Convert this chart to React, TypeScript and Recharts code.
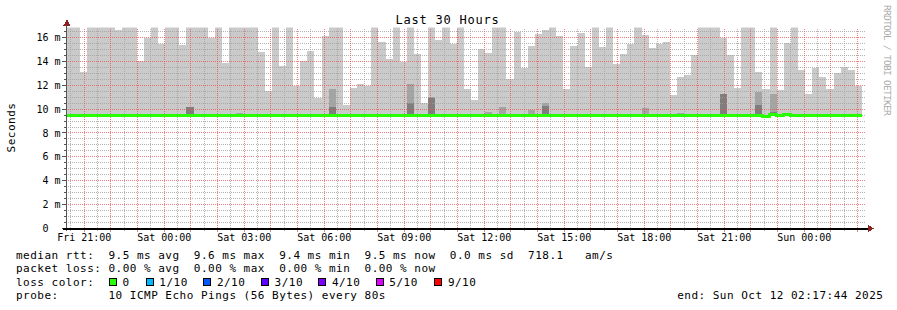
import React from "react";
import { ComposedChart, Area, Line, XAxis, YAxis, ReferenceLine } from "recharts";

// ---- data ----
const STEP_MIN = 16; // one smoke column = 16 minutes
const WINDOW_MIN = 1800; // 30 hours
const FIRST_LABEL_MIN = 42 + 16 / 60; // Fri 21:00 relative to window start (Fri 20:17:44)
const SMOKE_FLOOR = 9.45;

const topValues: number[] = [
  16.9, 16.9, 13.1, 16.9, 16.9, 16.9, 16.9, 16.6, 16.9, 16.9,
  14.0, 16.0, 16.9, 15.45, 16.9, 16.9, 15.37, 16.9, 16.9, 16.9,
  16.0, 16.9, 13.9, 16.9, 16.9, 16.9, 16.9, 14.8, 11.5, 16.9,
  13.6, 16.9, 11.9, 14.0, 14.87, 10.95, 16.15, 16.9, 16.9, 10.35,
  11.8, 12.1, 11.96, 16.9, 15.6, 14.2, 16.9, 13.97, 16.9, 14.6,
  10.5, 16.9, 15.8, 16.9, 15.45, 16.9, 11.66, 10.76, 15.03, 14.67,
  16.9, 16.9, 12.5, 16.5, 13.47, 15.28, 16.3, 16.6, 16.9, 16.1,
  11.68, 15.28, 16.4, 13.52, 16.9, 15.23, 16.9, 13.8, 14.6, 15.5,
  16.9, 16.2, 15.1, 15.48, 15.6, 11.18, 12.66, 12.9, 14.53, 16.9,
  16.9, 16.9, 16.0, 14.53, 11.8, 16.9, 16.9, 13.08, 11.68, 16.9,
  11.6, 15.56, 16.9, 13.27, 11.26, 13.47, 12.72, 11.68, 13.05, 13.55, 13.27, 11.96,
];

const layer2Cols = [17, 24, 37, 48, 51, 59, 61, 65, 67, 81, 86, 92, 97, 99, 101];
const layer2Vals = [10.2, 9.7, 11.7, 12.1, 11.0, 9.75, 10.15, 9.9, 10.54, 10.1, 9.7, 11.3, 11.46, 11.26, 9.7];
const layer3Cols = [17, 37, 48, 51, 67, 92, 97, 99];
const layer3Vals = [10.15, 10.15, 10.5, 10.95, 10.26, 11.25, 10.34, 9.75];

const medianValues: number[] = [
  9.5, 9.5, 9.5, 9.44, 9.5, 9.5, 9.5, 9.44, 9.44, 9.5,
  9.5, 9.5, 9.5, 9.5, 9.5, 9.5, 9.5, 9.5, 9.5, 9.5,
  9.5, 9.5, 9.5, 9.5, 9.5, 9.5, 9.5, 9.5, 9.5, 9.5,
  9.5, 9.5, 9.5, 9.5, 9.5, 9.5, 9.5, 9.5, 9.5, 9.5,
  9.5, 9.5, 9.5, 9.5, 9.5, 9.5, 9.5, 9.5, 9.5, 9.5,
  9.5, 9.5, 9.5, 9.5, 9.5, 9.5, 9.5, 9.5, 9.5, 9.5,
  9.5, 9.5, 9.5, 9.5, 9.5, 9.5, 9.5, 9.5, 9.5, 9.5,
  9.5, 9.5, 9.5, 9.45, 9.5, 9.45, 9.5, 9.5, 9.5, 9.5,
  9.5, 9.5, 9.5, 9.5, 9.5, 9.5, 9.5, 9.5, 9.5, 9.5,
  9.5, 9.5, 9.5, 9.5, 9.5, 9.5, 9.5, 9.5, 9.4, 9.55,
  9.5, 9.55, 9.5, 9.5, 9.5, 9.5, 9.5, 9.5, 9.5, 9.5, 9.5, 9.5,
];

const xTickLabels = [
  "Fri 21:00", "Sat 00:00", "Sat 03:00", "Sat 06:00", "Sat 09:00",
  "Sat 12:00", "Sat 15:00", "Sat 18:00", "Sat 21:00", "Sun 00:00",
];

const yMajorValues = [2, 4, 6, 8, 10, 12, 14, 16];
const yMinorValues = [0.5, 1, 1.5, 2.5, 3, 3.5, 4.5, 5, 5.5, 6.5, 7, 7.5, 8.5, 9, 9.5, 10.5, 11, 11.5, 12.5, 13, 13.5, 14.5, 15, 15.5, 16.5];
const yTicks = [0, ...yMinorValues, ...yMajorValues].sort((a, b) => a - b);

const lossLabels = ["0", "1/10", "2/10", "3/10", "4/10", "5/10", "9/10"];
const lossColors = ["#26ff00", "#00b8ff", "#0059ff", "#5e00ff", "#7e00ff", "#dd00ff", "#ff0000"];

const legendLine1 = "median rtt:  9.5 ms avg  9.6 ms max  9.4 ms min  9.5 ms now  0.0 ms sd  718.1   am/s";
const legendLine2 = "packet loss: 0.00 % avg  0.00 % max  0.00 % min  0.00 % now";
const legendLine3 = "loss color:";
const legendLine4 = "probe:       10 ICMP Echo Pings (56 Bytes) every 80s";
const endText = "end: Sun Oct 12 02:17:44 2025";
const titleText = "Last 30 Hours";
const yAxisTitle = "Seconds";
const watermark = "RRDTOOL / TOBI OETIKER";

// ---- derived table ----
const rows = topValues.map((hi, i) => {
  const j2 = layer2Cols.indexOf(i);
  const j3 = layer3Cols.indexOf(i);
  return {
    t: i * STEP_MIN,
    hi,
    l2: j2 >= 0 ? layer2Vals[j2] : SMOKE_FLOOR,
    l3: j3 >= 0 ? layer3Vals[j3] : SMOKE_FLOOR,
    med: medianValues[i],
  };
});
rows.push({ ...rows[rows.length - 1], t: topValues.length * STEP_MIN });

const halfHours: number[] = [];
for (let n = 0; FIRST_LABEL_MIN - 30 + n * 30 <= WINDOW_MIN; n++) halfHours.push(FIRST_LABEL_MIN - 30 + n * 30);
const majorX = halfHours.filter((_, i) => i % 2 === 1);
const minorX = halfHours.filter((_, i) => i % 2 === 0);

const MONO = "'DejaVu Sans Mono', monospace";

const isMultiple = (v: number, m: number) => Math.abs(v / m - Math.round(v / m)) < 1e-6;

const YTick = (props: any) => {
  const { y, payload } = props;
  const v = payload.value as number;
  const major = isMultiple(v, 2);
  const label = v === 0 ? "0" : `${v} m`;
  return (
    <g>
      <line x1={major ? 62 : 64} x2={66} y1={y} y2={y} stroke="#555" strokeWidth={1} />
      {major && (
        <text x={v === 0 ? 48.5 : 60.5} y={y + 3.6} textAnchor="end" fontFamily={MONO} fontSize={10} fill="#000">
          {label}
        </text>
      )}
    </g>
  );
};

const XTick = (props: any) => {
  const { x, payload } = props;
  const v = payload.value as number;
  const rel = (v - FIRST_LABEL_MIN) / 180;
  const idx = Math.round(rel);
  const isLabel = Math.abs(rel - idx) < 1e-6 && idx >= 0 && idx < xTickLabels.length;
  const isHour = isMultiple(v - FIRST_LABEL_MIN, 60);
  return (
    <g>
      <line x1={x} x2={x} y1={229} y2={isHour ? 232 : 231} stroke={isHour ? "#e08888" : "#b0b0b0"} strokeWidth={1} />
      {isLabel && (
        <text x={x} y={240.6} textAnchor="middle" fontFamily={MONO} fontSize={10} fill="#000">
          {xTickLabels[idx]}
        </text>
      )}
    </g>
  );
};

const MINOR = "rgba(160,160,160,0.8)";
const MAJOR = "rgba(235,75,75,0.7)";

export default function App() {
  const legendStyle: React.CSSProperties = { whiteSpace: "pre", letterSpacing: "0.49px" };
  const boxX = [109, 145.7, 203.3, 261, 318.3, 375.7, 434.3];
  return (
    <div style={{ position: "relative", width: 897, height: 310, background: "#fff", shapeRendering: "crispEdges" } as any}>
      <style>{"body{margin:0;background:#fff}"}</style>
      <ComposedChart
        width={897}
        height={310}
        data={rows}
        margin={{ top: 27.5, right: 31.5, bottom: 0, left: 0 }}
      >
        <XAxis
          dataKey="t"
          type="number"
          domain={[0, WINDOW_MIN]}
          ticks={halfHours}
          interval={0}
          tick={<XTick />}
          tickLine={false}
          axisLine={false}
          height={81.7}
          allowDataOverflow
        />
        <YAxis
          type="number"
          domain={[0, 16.85]}
          ticks={yTicks}
          interval={0}
          tick={<YTick />}
          tickLine={false}
          axisLine={false}
          width={65.5}
          allowDataOverflow
        />
        <Area type="stepAfter" dataKey={(d: any) => [SMOKE_FLOOR, d.hi]} fill="#cacaca" fillOpacity={1} stroke="none" isAnimationActive={false} zIndex={100} />
        <Area type="stepAfter" dataKey={(d: any) => [SMOKE_FLOOR, d.l2]} fill="#a4a4a4" fillOpacity={1} stroke="none" isAnimationActive={false} zIndex={101} />
        <Area type="stepAfter" dataKey={(d: any) => [SMOKE_FLOOR, d.l3]} fill="#7e7e7e" fillOpacity={1} stroke="none" isAnimationActive={false} zIndex={102} />
        {yMinorValues.map((v) => (
          <ReferenceLine key={`ym${v}`} y={v} stroke={MINOR} strokeDasharray="1 1" strokeWidth={1} zIndex={150} />
        ))}
        {minorX.map((v) => (
          <ReferenceLine key={`xm${v}`} x={v} stroke={MINOR} strokeDasharray="1 1" strokeWidth={1} zIndex={150} />
        ))}
        {yMajorValues.map((v) => (
          <ReferenceLine key={`yM${v}`} y={v} stroke={MAJOR} strokeDasharray="1 1" strokeWidth={1} zIndex={151} />
        ))}
        {majorX.map((v) => (
          <ReferenceLine key={`xM${v}`} x={v} stroke={MAJOR} strokeDasharray="1 1" strokeWidth={1} zIndex={151} />
        ))}
        <Line type="stepAfter" dataKey="med" stroke="#26ff00" strokeWidth={3} dot={false} activeDot={false} isAnimationActive={false} zIndex={400} />
      </ComposedChart>
      <svg width={897} height={310} style={{ position: "absolute", left: 0, top: 0, pointerEvents: "none" }}>
        {/* axes */}
        <line x1={66.5} x2={66.5} y1={24} y2={231} stroke="#555" strokeWidth={1} />
        <line x1={63} x2={869} y1={228.5} y2={228.5} stroke="#000" strokeWidth={2} />
        <path d="M 63.5 25.5 L 70.5 25.5 L 67 19.5 Z" fill="#8a2222" />
        <path d="M 868 225 L 868 232 L 874 228.5 Z" fill="#8a2222" />
        {/* title */}
        <text x={447.6} y={24} textAnchor="middle" fontFamily={MONO} fontSize={12} fill="#000" style={{ letterSpacing: "0.78px" }}>
          {titleText}
        </text>
        <text transform="translate(14.5,127.5) rotate(-90)" textAnchor="middle" fontFamily={MONO} fontSize={11} fill="#000" style={{ letterSpacing: "0.49px" }}>
          {yAxisTitle}
        </text>
        <text transform="translate(884,5) rotate(90)" fontFamily={MONO} fontSize={9.5} fill="#a8a8a8" style={{ letterSpacing: "-0.72px" }}>
          {watermark}
        </text>
        {/* legend */}
        <text x={16} y={258.8} fontFamily={MONO} fontSize={11} fill="#000" style={legendStyle}>{legendLine1}</text>
        <text x={16} y={272.3} fontFamily={MONO} fontSize={11} fill="#000" style={legendStyle}>{legendLine2}</text>
        <text x={16} y={285.8} fontFamily={MONO} fontSize={11} fill="#000" style={legendStyle}>{legendLine3}</text>
        {lossLabels.map((lab, i) => (
          <g key={lab}>
            <rect x={boxX[i] + 0.5} y={278.5} width={7} height={7} fill={lossColors[i]} stroke="#000" strokeWidth={1} />
            <text x={boxX[i] + 13.6} y={285.8} fontFamily={MONO} fontSize={11} fill="#000" style={legendStyle}>{lab}</text>
          </g>
        ))}
        <text x={16} y={299.3} fontFamily={MONO} fontSize={11} fill="#000" style={legendStyle}>{legendLine4}</text>
        <text x={677.2} y={299.3} fontFamily={MONO} fontSize={11} fill="#000" style={legendStyle}>{endText}</text>
      </svg>
    </div>
  );
}
